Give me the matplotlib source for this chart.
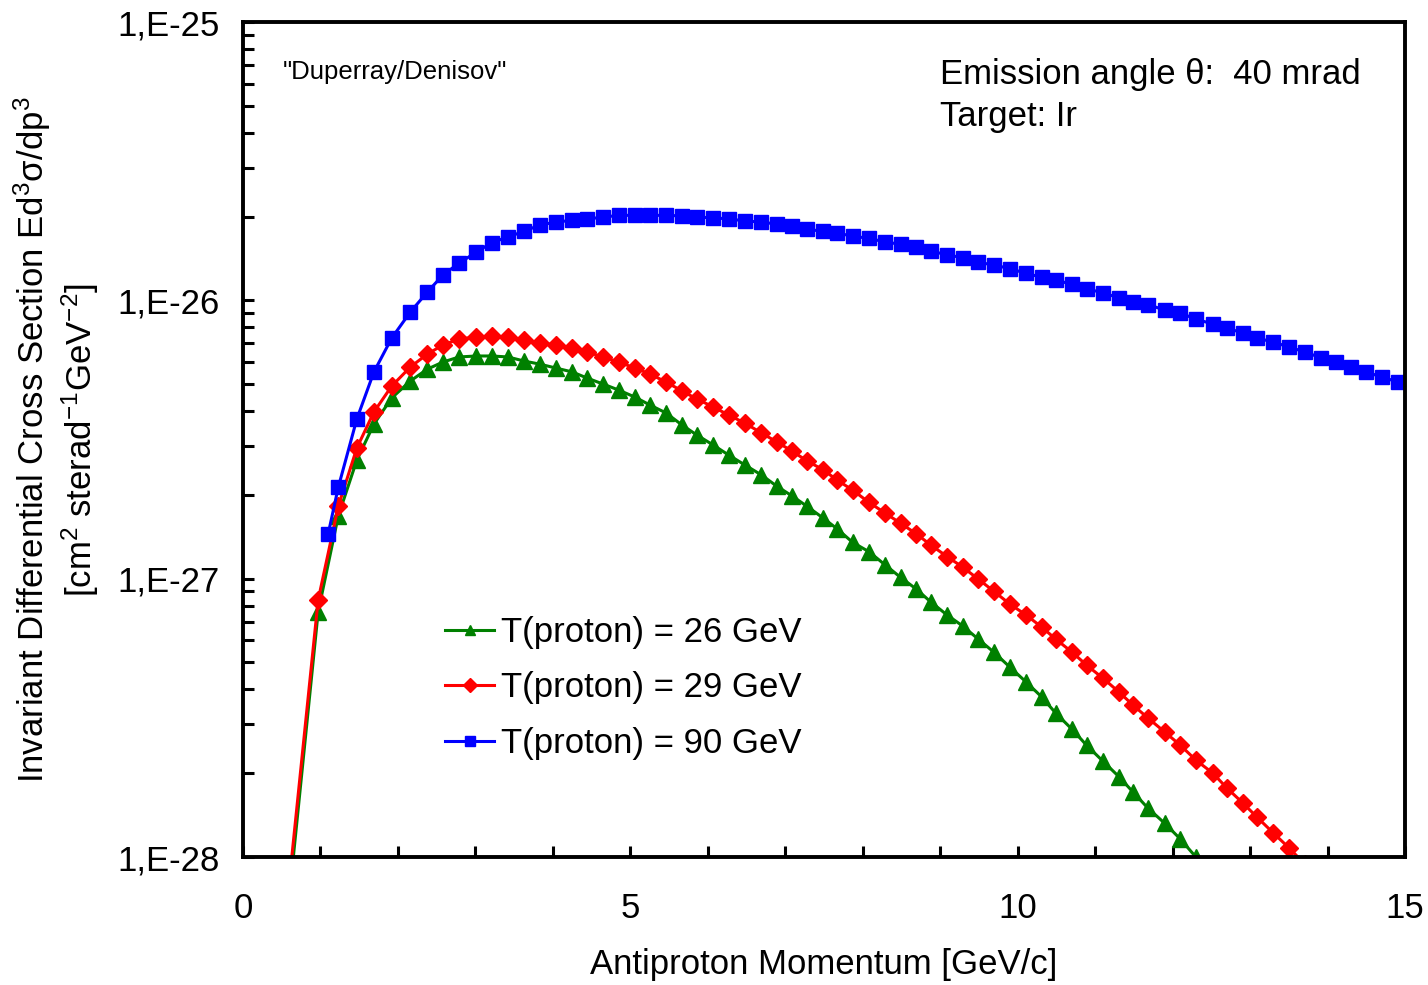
import numpy as np
import matplotlib
matplotlib.use("Agg")
import matplotlib.pyplot as plt
from matplotlib.ticker import FixedLocator, LogLocator, MultipleLocator, NullFormatter

plt.rcParams["font.family"] = ["Liberation Sans", "DejaVu Sans"]
plt.rcParams["mathtext.fontset"] = "custom"
plt.rcParams["mathtext.rm"] = "Liberation Sans"
plt.rcParams["mathtext.it"] = "Liberation Sans:italic"

# momentum grid shared by the markers (GeV/c)
p_grid = [1.23, 1.47, 1.69, 1.92, 2.16, 2.38, 2.58, 2.79, 3.01, 3.21,
          3.42, 3.63, 3.83, 4.04, 4.25, 4.44, 4.65, 4.85, 5.06, 5.25,
          5.46, 5.67, 5.86, 6.07, 6.27, 6.48, 6.69, 6.89, 7.09, 7.28,
          7.49, 7.67, 7.87, 8.08, 8.29, 8.49, 8.69, 8.88, 9.09, 9.29,
          9.49, 9.69, 9.90, 10.11, 10.31, 10.49, 10.70, 10.89, 11.10, 11.31,
          11.49, 11.68, 11.90, 12.10, 12.30, 12.52, 12.70, 12.91, 13.09, 13.30,
          13.50, 13.71, 13.92, 14.11, 14.30, 14.50, 14.70, 14.91]

# T(proton) = 90 GeV
p_90 = [1.10] + p_grid
xs_90 = [1.45e-27, 2.13e-27, 3.75e-27, 5.53e-27, 7.32e-27, 9.08e-27, 1.071e-26, 1.233e-26, 1.36e-26, 1.49e-26,
         1.61e-26, 1.69e-26, 1.77e-26, 1.865e-26, 1.91e-26, 1.94e-26, 1.96e-26, 1.99e-26, 2.02e-26, 2.02e-26,
         2.02e-26, 2.02e-26, 2.01e-26, 1.99e-26, 1.98e-26, 1.96e-26, 1.93e-26, 1.91e-26, 1.88e-26, 1.85e-26,
         1.80e-26, 1.77e-26, 1.745e-26, 1.70e-26, 1.67e-26, 1.62e-26, 1.59e-26, 1.55e-26, 1.50e-26, 1.46e-26,
         1.42e-26, 1.37e-26, 1.34e-26, 1.30e-26, 1.25e-26, 1.21e-26, 1.185e-26, 1.14e-26, 1.10e-26, 1.065e-26,
         1.02e-26, 9.86e-27, 9.65e-27, 9.23e-27, 9.00e-27, 8.56e-27, 8.22e-27, 7.95e-27, 7.63e-27, 7.32e-27,
         7.08e-27, 6.80e-27, 6.52e-27, 6.21e-27, 6.00e-27, 5.76e-27, 5.53e-27, 5.30e-27, 5.09e-27]

# T(proton) = 29 GeV
p_29 = [0.60, 0.97] + p_grid[:62]
xs_29 = [8.3e-29, 8.38e-28,
         1.82e-27, 2.95e-27, 3.97e-27, 4.92e-27, 5.76e-27, 6.41e-27, 6.91e-27, 7.26e-27, 7.38e-27, 7.44e-27,
         7.38e-27, 7.20e-27, 7.03e-27, 6.91e-27, 6.74e-27, 6.52e-27, 6.26e-27, 6.00e-27, 5.71e-27, 5.44e-27,
         5.09e-27, 4.72e-27, 4.42e-27, 4.14e-27, 3.87e-27, 3.62e-27, 3.34e-27, 3.10e-27, 2.87e-27, 2.65e-27,
         2.46e-27, 2.26e-27, 2.08e-27, 1.88e-27, 1.72e-27, 1.58e-27, 1.45e-27, 1.32e-27, 1.20e-27, 1.10e-27,
         9.97e-28, 9.02e-28, 8.10e-28, 7.40e-28, 6.70e-28, 6.07e-28, 5.45e-28, 4.89e-28, 4.39e-28, 3.91e-28,
         3.51e-28, 3.16e-28, 2.81e-28, 2.52e-28, 2.23e-28, 2.00e-28, 1.77e-28, 1.56e-28, 1.39e-28, 1.22e-28,
         1.08e-28, 9.4e-29]

# T(proton) = 26 GeV
p_26 = [0.60, 0.97] + p_grid[:56]
xs_26 = [7.3e-29, 7.59e-28,
         1.68e-27, 2.67e-27, 3.59e-27, 4.46e-27, 5.13e-27, 5.66e-27, 6.00e-27, 6.26e-27, 6.31e-27, 6.31e-27,
         6.26e-27, 6.05e-27, 5.90e-27, 5.71e-27, 5.53e-27, 5.26e-27, 5.00e-27, 4.76e-27, 4.49e-27, 4.21e-27,
         3.94e-27, 3.56e-27, 3.28e-27, 3.02e-27, 2.78e-27, 2.56e-27, 2.36e-27, 2.15e-27, 1.98e-27, 1.82e-27,
         1.65e-27, 1.51e-27, 1.35e-27, 1.25e-27, 1.12e-27, 1.01e-27, 9.18e-28, 8.24e-28, 7.40e-28, 6.76e-28,
         6.07e-28, 5.45e-28, 4.81e-28, 4.25e-28, 3.76e-28, 3.29e-28, 2.88e-28, 2.52e-28, 2.21e-28, 1.94e-28,
         1.71e-28, 1.50e-28, 1.32e-28, 1.16e-28, 1.00e-28, 8.9e-29]

labels = ["T(proton) = 26 GeV", "T(proton) = 29 GeV", "T(proton) = 90 GeV"]
y_ticks = [1e-28, 1e-27, 1e-26, 1e-25]
y_tick_labels = ["1,E-28", "1,E-27", "1,E-26", "1,E-25"]
x_ticks = [0, 5, 10, 15]

fig = plt.figure(figsize=(14.28, 9.85), dpi=100)
ax = fig.add_axes([243 / 1428, 1 - 857 / 985, 1162 / 1428, 835 / 985])

ax.plot(p_26, xs_26, color="#008000", lw=2.2, marker="^", ms=11, label=labels[0])
ax.plot(p_29, xs_29, color="#ff0000", lw=2.2, marker="D", ms=9.5, label=labels[1])
ax.plot(p_90, xs_90, color="#0000ff", lw=2.2, marker="s", ms=9.5, label=labels[2])

ax.set_yscale("log")
ax.set_xlim(0, 15)
ax.set_ylim(1e-28, 1e-25)

ax.yaxis.set_major_locator(FixedLocator(y_ticks))
ax.set_yticklabels(y_tick_labels)
ax.yaxis.set_minor_locator(LogLocator(base=10, subs=np.arange(2, 10)))
ax.yaxis.set_minor_formatter(NullFormatter())
ax.set_xticks(x_ticks)
ax.xaxis.set_minor_locator(MultipleLocator(1))

ax.tick_params(which="both", direction="in", length=8, width=2.2, top=False, right=False)
ax.tick_params(axis="y", which="major", labelsize=25, pad=17)
ax.tick_params(axis="x", which="major", labelsize=25, pad=25)
for s in ax.spines.values():
    s.set_linewidth(2.8)

ax.set_xlabel("Antiproton Momentum [GeV/c]", fontsize=25, labelpad=17)
fig.text(32 / 1428, 1 - 440 / 985, "Invariant Differential Cross Section Ed$^3$\u03c3/dp$^3$",
         rotation=90, ha="center", va="center", fontsize=25)
fig.text(80 / 1428, 1 - 440 / 985, "[cm$^2$ sterad$^{-1}$GeV$^{-2}$]",
         rotation=90, ha="center", va="center", fontsize=25)

ax.text(0.034, 0.94, "\"Duperray/Denisov\"", transform=ax.transAxes, fontsize=18.5, va="center")
ax.text(0.600, 0.937, "Emission angle \u03b8:  40 mrad", transform=ax.transAxes, fontsize=25, va="center")
ax.text(0.600, 0.887, "Target: Ir", transform=ax.transAxes, fontsize=25, va="center")

leg = ax.legend(loc="upper left", bbox_to_anchor=(0.162, 0.305), frameon=False, fontsize=25,
                handlelength=1.42, handletextpad=0.2, labelspacing=0.64, markerscale=0.7,
                borderaxespad=0)

fig.savefig("out.png", dpi=100)
